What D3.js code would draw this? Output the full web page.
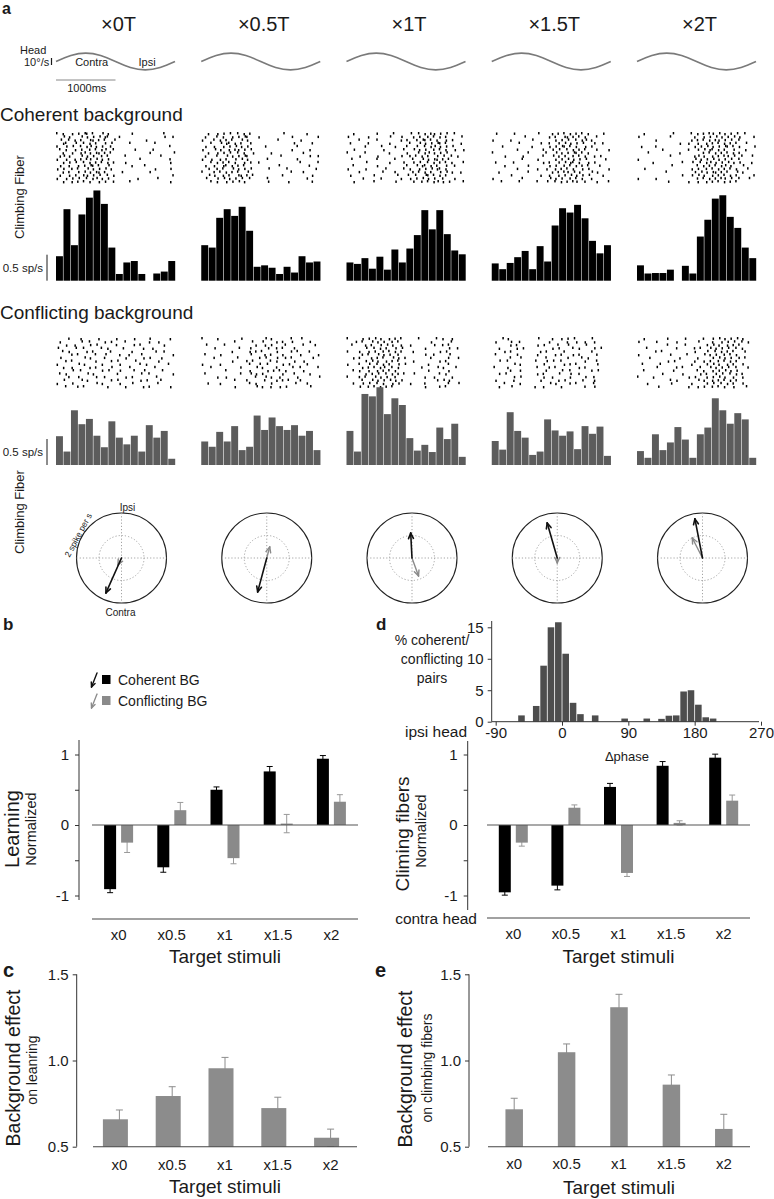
<!DOCTYPE html>
<html><head><meta charset="utf-8">
<script src="https://cdn.jsdelivr.net/npm/d3@7"></script>
<style>body{margin:0;background:#fff} svg{display:block} text{font-family:"Liberation Sans",Arial,sans-serif}</style>
</head><body><svg id="c" width="774" height="1199"></svg>
<script>
// ---------------- DATA ----------------
const conditions = ["×0T","×0.5T","×1T","×1.5T","×2T"];
const stimuli = ["x0","x0.5","x1","x1.5","x2"];
// head velocity trace (ms, deg/s)
const headT = [0,250,500,750,1000,1250,1500,1750,2000];
const headV = [0,8.5,12,8.5,0,-8.5,-12,-8.5,0];
// climbing-fiber histograms (sp/s), 16 bins per condition
const cohHist = [
 [0.51,1.49,0.74,1.38,1.73,1.88,1.60,0.69,0.14,0.38,0.41,0.14,0,0.15,0.19,0.41],
 [0.74,0.69,1.31,1.49,1.35,1.54,1.04,0.29,0.32,0.27,0.14,0.29,0.17,0.51,0.38,0.40],
 [0.38,0.35,0.47,0.25,0.50,0.23,0.65,0.38,0.67,0.95,1.47,1.07,1.47,0.97,0.63,0.55],
 [0.36,0.24,0.37,0.49,0.62,0.24,0.72,0.40,1.15,1.51,1.42,1.58,1.30,0.83,0.57,0.74],
 [0.32,0.15,0.16,0.16,0.23,0,0.31,0.15,0.92,1.27,1.71,1.78,1.33,1.10,0.69,0.47]
];
const conHist = [
 [0.60,0.28,1.14,0.85,0.96,0.61,0.37,0.91,0.57,0.43,0.61,0.28,0.83,0.57,0.71,0.13],
 [0.49,0.38,0.69,0.49,0.81,0.31,0.38,1.03,0.73,0.99,0.81,0.73,0.83,0.61,0.71,0.31],
 [0.71,0.28,1.48,1.43,1.62,1.06,1.39,1.25,0.56,0.30,0.42,0.27,0.78,0.54,0.86,0.17],
 [0.50,0.32,1.10,0.71,0.57,0.21,0.28,0.95,0.72,0.61,0.70,0.33,0.81,0.65,0.80,0.19],
 [0.29,0.15,0.64,0.31,0.47,0.79,0.53,0.15,0.64,0.78,1.39,1.14,0.86,1.08,0.95,0.15]
];
// spike rasters (x = spike)
const cohRaster = [
["x.x..x.x.xx.x..x.x.......x..........x...","..x.x...x.x.x.x.xx...x..............x..x",".x..x.x.x..xx.x.x..x..........x.........","..xx..x..x.x.x..x.x.....x........x......","x..x.x..x.xx.x.x..x...................x.",".x.x..x.x..x.x.xx..x......x.....x.......","..x..x..xx.x.xx.x.x............x.......x",".xx.x...x.x.x..x.x.....x...........x....","x..x..x.x.xx.x.x.x..........x.........x.","..x.x.x..x.x.x.x.x.x...x..............x.",".x..x..x.x.xx.x..x.......x...x..........","x.x..x.x..x.x.x.x.x..............x....x.","..x.x..x.x.x.xx.x.....x........x........",".x..x.x..xx.x.x..x.x...................x","x..x.x.x..x.xx.x.x.........x......x.....","..x..x.x.x.x..x.x..x....x.............x."],
["..x..x.x.x..x.x.x..........x.......x....",".x...x.x..x.x.xx...x..........x........x","x...x.x.x.x..x.x.........x.......x......","...x..x.xx.x.x..x..............x.....x..",".x..x..x.x.x.x.x.....x..........x.......","x...x.x..x.xx.x.x.............x.....x...","..x..x.x.x..x.x..x.....x..........x.....",".x...x..x.x.x.xx..........x.........x..x","x..x..x.x..x.x.x......x.........x.......","...x.x.x.x.x..x.x..x.............x.....x",".x..x..xx.x.x.x...........x.........x...","..x..x.x..x.x.x.x.....x.....x.........x.","x...x.x.x.x.x..x..............x...x.....","..x.x..x.x..xx.x.x.........x.........x..",".x...x.x.x.x.x..x.....x............x....","...x.x..x.x.x.x.......x......x.......x.."],
["..x.......x....x.....x..x.x.xx.x.x..x...","x......x......x...x...x.x..x.x.x.x....x.","....x.....x.......x.x..x.xx.x.x..x.x....",".x.....x......x......x..x.x.x.xx.x....x.","......x....x....x...x..x..x.xx.x.x.x....","..x.........x......x..x.x.x..x.x.x..x..x","x.....x.......x.....x...x.xx.x.x.x......","....x.....x.......x..x.x.x.x..x.x..x.x..",".x........x.....x.....x..x.x.xx.x.x.....","......x.......x....x..x.x..x.x.x.x.x...x","..x.......x.........x..x.xx.x.x..x..x...","x.....x......x.....x.x..x.x.x.xx.x......","....x.......x...x.....x.x.x.x..x.x.x..x.",".x.......x.......x..x..x..xx.x.x.x......",".....x.....x......x..x.x.x.x.x..x...x...","..x......x......x.....x..x.x.xx.x.x....x"],
[".x.....x.......x....x.x.x.x.x.x.x....x..","...........x.......x.x..xx.x.x.x...x....","x.....x......x.......x.x.x..x.xx.x......",".........x......x..x..x.x.x.x.x...x..x..","...x.........x.....x.x.xx.x.x..x.x......","........x........x..x.x..x.x.x.x...x...x","x...........x.....x..x.x.x.xx.x.x.......","....x.....x......x..x.x.x..x.x.x..x.x...","..........x....x.....x.x.x.x.x.x......x.",".x.....x.........x.x..x.x.xx.x..x.x.....","....x.......x......x.x..x.x.x.x.x...x...","........x......x..x..x.x.x.x..x.x......x","..x.........x.......x.x.xx.x.x...x.x....","......x.........x..x..x.x.x.x.x.x....x..","x.........x........x.x.x..x.x.x..x......","...x.....x.....x..x..x.x.x.xx..x...x...x"],
["..x.........x.....x.x.x.xx.x.x.x.x..x...","x..........x.......x..x.x.x.x.x.x.x....x","......x...........x.x.x.x.xx.x.x..x.....","..............x..x..x..x.x.x.x.x.x..x...",".x....x............x.x.x.x.x.xx.x.x....x","........x........x..x.x.xx.x.x..x...x...","...x..........x.......x.x.x.x.x.x.x.....","...........x.......xx.x..x.x.xx.x..x..x.","x..................x.x.x.x.x.x.x..x.....",".....x.........x..x..x.xx.x.x.x.x.x...x.","...........x........x.x.x.x.xx.x...x....","..x...............x.x..x.x.x.x.x.x...x..",".........x.........x.x.x.xx.x.x..x.x....","...............x..x.x.x..x.x.x.x.x.....x","x.....x.............x.x.x.x.xx.x..x..x..","..........x......x..x..x.x.x.x.x.x......"]
];
const conRaster = [
["....x...x.....x.....x.....x....x......x.",".x......x..x....x.x....x.......x..x.....","...x..x....x.x......x.....x.x.......x...","x.....x..x.....x.x....x......x..x.......","..x.x.....x.x.....x......x.......x..x...",".....x.x.....x..x....x..x...x..........x",".x.......x.x....x......x.....x.x...x....","...x.x.......x....x.x.....x.......x.....","x......x.x.....x.....x......x.x......x..","..x..x.....x.x....x.....x........x......",".....x..x......x.x...x....x..x.....x....",".x.x......x.x.......x.......x..x.......x","....x..x.....x..x......x.x.......x......","..x.....x.x.......x.x.......x.x....x....","x....x.......x.x.....x...x........x.....","...x...x.x.......x.....x.....x.x......x."],
["x....x.......x.......x.x......x..x......","...........x.....x..x....x.x..x.....x..",".x.....x..........x..x.x....x.....x...x.","....x.......x...x.....x..x.x...x........","..........x.....x.x.x....x....x.x...x...",".x....x.........x....x.x...x.....x.....x","....x.......x......x.x...x..x.x......x..","..........x....x.x.....x.x.....x..x.....","x.....x.........x..x..x....x.x.....x....","...x.........x....x.x....x....x..x.....x","........x.......x.....x.x.x.x.....x.....",".x...........x..x.x.x......x...x....x...",".....x..x.........x..x.x..x.....x......x","...........x...x.....x...x.x.x...x......","..x...x.........x.x....x.......x...x....","...........x......x.x..x..x.x.......x..."],
["x....x.x.x.x..x.x.x.....x.....x.x..x....","...x.x..x.x.x..x.x..........x......x....",".x....x.x..x.x.x..x..x.......x..x.x.....","......x..x.x.x..x.x.......x.......x..x..","x...x..x.x..x.x.x.x...x........x.x......",".....x.x..x.x.x..x........x..x....x.....","..x.x...x.x.x..x.x.x........x.....x..x..","......x.x.x..x.x.x....x........x.x......","x...x..x..x.x.x..x.x.......x......x.....",".....x.x.x.xx..x.x.......x....x.x...x...","..x.x..x..x.x.x.x..........x......x.....","......x.x.x..x.x.x.x..x........x.x......","x...x.x..x.x.x..x.........x..x.....x....",".....x..x.x.x.x.x.x...........x.x.x.....","..x..x.x..x.x..x.x...x....x.......x..x..","....x..x.x.x.x.x..........x....x.x......"],
["...x.x.........x....x..x.x.x.....x......",".x....x..x.........x.....x..x..x..x....","......x.x......x.x....x..x.....x........","..x.....x.x.........x.x....x.x....x.x...","....x.x.........x.x.....x........x......",".x......x......x.....x.x...x.x.....x....","......x..x........x......x....x.x......","..x..x........x...x.x..x.......x...x....",".......x.x.......x......x.x.x......x....","x....x.........x...x.x.......x.x........","......x..x........x....x..x......x.x....","..x.x..........x.x....x...x..x..........",".......x.x.......x..x.....x....x..x.....",".x.....x........x.....x.x.....x...x.....","....x....x.........x.x....x.x.....x.....","..x...x.......x..x.....x.......x..x....."],
["..x.......x.....x.....x..x.x.x.x.x.x....","x.....x......x......x....x..x.x.x..x.x..","..........x.....x......x.x.x..x.x.x.....","...x.........x.....x.x..x.x.x.x..x.x....","......x.x..........x...x..x.x.x.x...x...","x..........x....x.....x.x.x..x.x.x......","....x.........x.....x....x.x.x.x..x.x...","..........x.x......x..x.x..x.x.x.x......",".x.....x..........x....x.x.x..x.x..x....","......x......x.x.....x..x.x.x.x..x...x..","..x.........x.......x.x..x.x.x.x.x......","........x......x.....x.x..x.x..x.x.x....","x....x...........x.x...x.x.x.x..x..x....","...........x.x......x.x..x.x.x.x.x......","...x.......x......x....x.x..x.x.x..x....",".......x.........x..x.x..x.x.x..x...x..."]
];
// polar vectors: [phase deg (clockwise from ipsi), amplitude spike/s]
const polarCoh = [[204,1.70],[195,1.56],[357,1.11],[344,1.62],[349,1.77]];
const polarCon = [[207,0.35],[15,0.51],[160,0.85],[180,0.22],[333,1.00]];
// panel b: normalized learning
const learnCoh = [-0.91,-0.60,0.50,0.76,0.94];
const learnCohErr = [0.05,0.07,0.04,0.07,0.045];
const learnCon = [-0.25,0.21,-0.47,0.02,0.33];
const learnConErr = [0.14,0.11,0.08,0.13,0.10];
// panel d: normalized climbing fibers
const cfCoh = [-0.955,-0.86,0.54,0.84,0.955];
const cfCohErr = [0.04,0.06,0.05,0.06,0.05];
const cfCon = [-0.25,0.245,-0.68,0.03,0.345];
const cfConErr = [0.05,0.04,0.05,0.03,0.08];
// panel d inset: delta-phase histogram (bin left edge deg, % pairs)
const phaseBin = [-60,-40,-30,-20,-10,0,10,20,40,80,110,130,140,150,160,170,180,190,200];
const phasePct = [1.0,2.5,8.9,15.0,15.8,10.8,3.0,1.2,1.0,0.5,0.5,0.45,0.95,1.0,4.8,5.0,2.7,0.7,0.5];
const phaseTicks = [-90,0,90,180,270];
const pctTicks = [0,5,10,15];
// panels c, e: background effect
const bgLearn = [0.659,0.794,0.955,0.724,0.552];
const bgLearnErr = [0.054,0.054,0.063,0.063,0.05];
const bgCF = [0.717,1.048,1.309,0.86,0.603];
const bgCFErr = [0.064,0.048,0.075,0.056,0.085];

// ---------------- DRAW ----------------
const svg = d3.select("#c");
svg.append("rect").attr("width",774).attr("height",1199).attr("fill","#fff");
const INK = "#1a1a1a";
function txt(x,y,s,size,o={}){
  const t = svg.append("text").attr("x",x).attr("y",y).text(s).attr("font-size",size).attr("fill",o.fill||INK);
  if(o.anchor) t.attr("text-anchor",o.anchor);
  if(o.weight) t.attr("font-weight",o.weight);
  if(o.rotate!=null) t.attr("transform",`rotate(${o.rotate},${x},${y})`);
  return t;
}
function line(x1,y1,x2,y2,col,w,dash){
  const l = svg.append("line").attr("x1",x1).attr("y1",y1).attr("x2",x2).attr("y2",y2).attr("stroke",col).attr("stroke-width",w);
  if(dash) l.attr("stroke-dasharray",dash);
  return l;
}
function arrow(x1,y1,x2,y2,col,w,head){
  line(x1,y1,x2,y2,col,w).attr("stroke-linecap","round");
  const a = Math.atan2(y2-y1,x2-x1);
  [0.42,-0.42].forEach(da=>{
    line(x2,y2,x2-head*Math.cos(a+da),y2-head*Math.sin(a+da),col,w).attr("stroke-linecap","round");
  });
}

// ---- Panel a ----
const colBand = d3.scaleBand().domain(conditions).range([56,756]).paddingInner(0.1807);
const colW = colBand.bandwidth();
txt(2,14,"a",16,{weight:"bold"});
conditions.forEach(c=>txt(colBand(c)+colW/2+3,31,c,20,{anchor:"middle"}));

const tScale = d3.scaleLinear().domain([0,2000]).range([0,colW]);
const vScale = d3.scaleLinear().domain([-10,10]).range([61.5+7,61.5-7]);
const headLine = d3.line().x(d=>tScale(d[0])).y(d=>vScale(d[1])).curve(d3.curveNatural);
const headPts = headT.map((t,i)=>[t,headV[i]]);
conditions.forEach(c=>{
  svg.append("path").attr("d",headLine(headPts)).attr("transform",`translate(${colBand(c)},0)`)
    .attr("fill","none").attr("stroke","#7a7a7a").attr("stroke-width",1.7);
});
txt(20,53.5,"Head",11);
txt(24,66,"10°/s",11);
line(51.5,vScale(5),51.5,vScale(-5),INK,1.2);
txt(colBand(conditions[0])+tScale(600),66,"Contra",11,{anchor:"middle"});
txt(colBand(conditions[0])+tScale(1530),66,"Ipsi",11,{anchor:"middle"});
line(colBand(conditions[0])+tScale(0),80,colBand(conditions[0])+tScale(1000),80,"#888",1);
txt(colBand(conditions[0])+tScale(500)+1,92,"1000ms",11,{anchor:"middle"});

txt(0,121,"Coherent background",19);
txt(0,318.5,"Conflicting background",19);
txt(24,197,"Climbing Fiber",13,{anchor:"middle",rotate:-90});
txt(24,512,"Climbing Fiber",13,{anchor:"middle",rotate:-90});

const rasterX = d3.scaleLinear().domain([0,40]).range([0,colW]);
const rowY = d3.scaleLinear().domain([0,15]).range([0,48]);
const rowShift = [0,1.5,0.7,2.1,0.3,1.2];   // small per-row stagger of the drawn ticks
function drawRaster(rows,x0,y0){
  rows.forEach((r,ri)=>{
    for(let i=0;i<Math.min(r.length,40);i++) if(r[i]==="x")
      svg.append("rect").attr("x",x0+rasterX(i)+rowShift[(ri+i)%6]*0.8).attr("y",y0+rowY(ri)+((i*7+ri)%3)*0.5)
        .attr("width",1.5).attr("height",2.4).attr("fill","#000");
  });
}
const binBand = d3.scaleBand().domain(d3.range(16)).range([0,colW]).paddingInner(0.1);
const hScale = d3.scaleLinear().domain([0,1]).range([0,48]);
function drawHist(vals,x0,base,col){
  vals.forEach((v,i)=>{
    if(v<=0) return;
    svg.append("rect").attr("x",x0+binBand(i)).attr("y",base-hScale(v)).attr("width",binBand.bandwidth()+0.2)
      .attr("height",hScale(v)).attr("fill",col);
  });
}
conditions.forEach((c,i)=>{
  drawRaster(cohRaster[i],colBand(c),132);
  drawHist(cohHist[i],colBand(c),280.7,"#000");
  drawRaster(conRaster[i],colBand(c),337);
  drawHist(conHist[i],colBand(c),465,"#5c5c5c");
});
// scale bars 0.5 sp/s
[[280.7,268.5+3],[465,453+3]].forEach(([b,ty])=>{
  line(47,b-hScale(0.5)-2,47,b,INK,1);
  txt(43,ty,"0.5 sp/s",11.5,{anchor:"end"});
});

// polar plots
const rPolar = d3.scaleLinear().domain([0,2]).range([0,45]);
const polarCY = 558;
conditions.forEach((c,i)=>{
  const cx = colBand(c)+colW/2+6, cy = polarCY, R = rPolar(2);
  svg.append("circle").attr("cx",cx).attr("cy",cy).attr("r",R).attr("fill","none").attr("stroke","#222").attr("stroke-width",1.1);
  svg.append("circle").attr("cx",cx).attr("cy",cy).attr("r",rPolar(1)).attr("fill","none").attr("stroke","#9a9a9a").attr("stroke-width",0.9).attr("stroke-dasharray","1.2,2");
  line(cx-R,cy,cx+R,cy,"#9a9a9a",0.9,"1.2,2");
  line(cx,cy-R,cx,cy+R,"#9a9a9a",0.9,"1.2,2");
  [[polarCon[i],"#8a8a8a",1.4],[polarCoh[i],"#111",1.6]].forEach(([p,col,w])=>{
    const a = p[0]*Math.PI/180, r = rPolar(p[1]);
    arrow(cx,cy,cx+r*Math.sin(a),cy-r*Math.cos(a),col,w,6);
  });
  if(i===0){
    txt(cx+6,511,"Ipsi",10,{anchor:"middle"});
    txt(cx-1,616,"Contra",10,{anchor:"middle"});
    const ta = 298*Math.PI/180, tr = R+1;
    txt(cx+tr*Math.sin(ta),cy-tr*Math.cos(ta),"2 spike per s",8.5,{anchor:"middle",rotate:-62});
  }
});

// ---- Panel b ----
txt(3,630,"b",17,{weight:"bold"});
txt(376,630,"d",17,{weight:"bold"});
// legend
arrow(97,673,91.5,687,"#111",1.4,5);
svg.append("rect").attr("x",102).attr("y",675).attr("width",8.5).attr("height",9).attr("fill","#000");
txt(118,685,"Coherent BG",14);
arrow(97,694,91.5,708,"#8a8a8a",1.3,5);
svg.append("rect").attr("x",102).attr("y",696).attr("width",8.5).attr("height",9).attr("fill","#8a8a8a");
txt(118,705.5,"Conflicting BG",14);

const normY = d3.scaleLinear().domain([-1,1]).range([895.5,754.5]);
function styleAxis(g){
  g.select(".domain").remove();
  g.selectAll(".tick line").attr("stroke","#333");
  g.selectAll(".tick text").attr("font-size",15).attr("font-family",'"Liberation Sans",Arial,sans-serif').attr("fill",INK);
}
function errBar(x,y1,y2,col,cap){
  line(x,y1,x,y2,col,1);
  line(x-cap/2,y1,x+cap/2,y1,col,1);
  line(x-cap/2,y2,x+cap/2,y2,col,1);
}
function groupedPanel(axisX,x0,x1,axisTop,axisBot,xAxisY,coh,cohE,con,conE,labelY,titleY){
  const bx = d3.scaleBand().domain(stimuli).range([x0,x1]);
  const g = svg.append("g").attr("transform",`translate(${axisX},0)`)
    .call(d3.axisLeft(normY).tickValues([-1,-0.5,0,0.5,1]).tickFormat(d=>Number.isInteger(d)?String(d):"").tickSize(4).tickPadding(6));
  styleAxis(g);
  line(axisX,axisTop,axisX,axisBot,"#333",1);
  stimuli.forEach((s,i)=>{
    const c = bx(s)+bx.bandwidth()/2;
    [[coh[i],cohE[i],c-8.5,"#000","#000"],[con[i],conE[i],c+8.5,"#8a8a8a","#999"]].forEach(([v,e,cx,fill,ecol])=>{
      errBar(cx,normY(v-e),normY(v+e),ecol,6);
      svg.append("rect").attr("x",cx-6).attr("y",Math.min(normY(0),normY(v))).attr("width",12)
        .attr("height",Math.abs(normY(v)-normY(0))).attr("fill",fill);
    });
    txt(c,labelY,s,15,{anchor:"middle"});
  });
  line(x0,normY(0),x1,normY(0),"#555",1.2);
  line(x0,xAxisY,x1,xAxisY,"#444",1.1);
  txt((x0+x1)/2,titleY,"Target stimuli",19,{anchor:"middle"});
}
groupedPanel(79,92,358,740,900,919,learnCoh,learnCohErr,learnCon,learnConErr,940,963);
txt(19,829,"Learning",20,{anchor:"middle",rotate:-90});
txt(35.5,829,"Normalized",14.5,{anchor:"middle",rotate:-90});

// ---- Panel d ----
groupedPanel(467.7,487,750,741,910,918,cfCoh,cfCohErr,cfCon,cfConErr,939,963);
txt(408.5,834,"Climing fibers",19,{anchor:"middle",rotate:-90});
txt(425.5,831,"Normalized",14.5,{anchor:"middle",rotate:-90});
txt(467,737,"ipsi head",15.5,{anchor:"end"});
txt(477,924,"contra head",15.5,{anchor:"end"});

// inset histogram
const phX = d3.scaleLinear().domain([-95,270]).range([492,761]);
const phY = d3.scaleLinear().domain([0,15]).range([721.7,627.3]);
phaseBin.forEach((b,i)=>{
  svg.append("rect").attr("x",phX(b)+0.4).attr("y",phY(phasePct[i])).attr("width",phX(b+10)-phX(b)-0.8)
    .attr("height",phY(0)-phY(phasePct[i])).attr("fill","#4d4d4d");
});
const gy = svg.append("g").attr("transform","translate(491.7,0)")
  .call(d3.axisLeft(phY).tickValues(pctTicks).tickSize(4).tickPadding(4));
styleAxis(gy);
line(491.7,621,491.7,721.7,"#333",1);
const gx = svg.append("g").attr("transform","translate(0,721.7)")
  .call(d3.axisBottom(phX).tickValues(phaseTicks).tickFormat(d=>String(d)).tickSize(4).tickPadding(2));
styleAxis(gx);
line(491.7,721.7,759,721.7,"#333",1);
txt(627,761,"Δphase",13,{anchor:"middle"});
txt(432,645,"% coherent/",14,{anchor:"middle"});
txt(432,664,"conflicting",14,{anchor:"middle"});
txt(432,683,"pairs",14,{anchor:"middle"});

// ---- Panels c, e ----
const effY = d3.scaleLinear().domain([0.5,1.5]).range([1146.7,974.3]);
function effPanel(axisX,x0,x1,vals,errs,bw,off,labelY,titleY){
  const bx = d3.scaleBand().domain(stimuli).range([x0,x1]);
  const g = svg.append("g").attr("transform",`translate(${axisX},0)`)
    .call(d3.axisLeft(effY).tickValues([0.5,1.0,1.5]).tickFormat(d3.format(".1f")).tickSize(4).tickPadding(4));
  styleAxis(g);
  line(axisX,effY(1.5),axisX,effY(0.5),"#333",1);
  stimuli.forEach((s,i)=>{
    const c = bx(s)+bx.bandwidth()/2;
    errBar(c,effY(vals[i]-errs[i]),effY(vals[i]+errs[i]),"#8c8c8c",7);
    svg.append("rect").attr("x",c+off-bw/2).attr("y",effY(vals[i])).attr("width",bw)
      .attr("height",effY(0.5)-effY(vals[i])).attr("fill","#8c8c8c");
    txt(c,labelY,s,15,{anchor:"middle"});
  });
  line(x0,effY(0.5),x1,effY(0.5),"#444",1.1);
  txt((x0+x1)/2,titleY,"Target stimuli",19,{anchor:"middle"});
}
txt(3,977,"c",20,{weight:"bold"});
txt(375,977,"e",20,{weight:"bold"});
effPanel(76.7,93,357,bgLearn,bgLearnErr,25,-4,1170,1193);
txt(19.5,1068,"Background effect",19.5,{anchor:"middle",rotate:-90});
txt(37,1070,"on leanring",14,{anchor:"middle",rotate:-90});
effPanel(469,488,750,bgCF,bgCFErr,17.5,0,1169,1194);
txt(412,1069,"Background effect",19.5,{anchor:"middle",rotate:-90});
txt(432,1068,"on climbing fibers",14,{anchor:"middle",rotate:-90});
</script></body></html>
